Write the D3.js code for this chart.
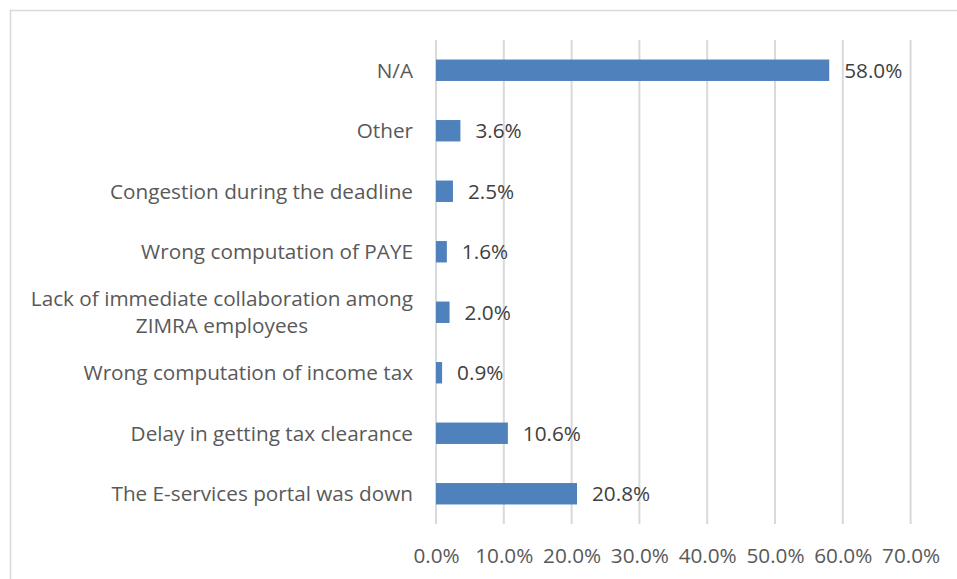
<!DOCTYPE html>
<html>
<head>
<meta charset="utf-8">
<script src="https://cdn.jsdelivr.net/npm/d3@7"></script>
<style>
  html, body { margin: 0; padding: 0; background: #fff; }
  svg { display: block; }
</style>
</head>
<body>
<svg id="chart" width="957" height="579"></svg>
<script>
// Challenges reported, top row first (percent of respondents)
const categories = [
  "N/A",
  "Other",
  "Congestion during the deadline",
  "Wrong computation of PAYE",
  "Lack of immediate collaboration among|ZIMRA employees",
  "Wrong computation of income tax",
  "Delay in getting tax clearance",
  "The E-services portal was down"
];
const values = [58.0, 3.6, 2.5, 1.6, 2.0, 0.9, 10.6, 20.8];
const xTicks = [0, 10, 20, 30, 40, 50, 60, 70];

const W = 957, H = 579;
const font = "'Open Sans', sans-serif";
const textColor = "#595959";
const barColor = "#4f81bd";
const gridColor = "#d9d9d9";

const svg = d3.select("#chart");

// pick a font size so the category text runs about 303px for the congestion label
const probe = svg.append("text")
  .style("font-family", font).style("font-size", "20px")
  .text("Congestion during the deadline");
const fs = Math.max(14, Math.min(24, 20 * 303 / probe.node().getComputedTextLength()));
probe.remove();
const fsPx = fs.toFixed(2) + "px";

// chart frame
svg.append("rect")
  .attr("x", 10.5).attr("y", 10.5)
  .attr("width", W).attr("height", H)
  .attr("fill", "none").attr("stroke", gridColor).attr("stroke-width", 1.5);

const plot = { left: 436, right: 910.6, top: 40, bottom: 524 };

const x = d3.scaleLinear().domain([0, 70]).range([plot.left, plot.right]);
const y = d3.scaleBand()
  .domain(categories)
  .range([plot.top, plot.bottom])
  .paddingInner(0.646).paddingOuter(0.323);

// vertical gridlines
svg.append("g").selectAll("line").data(xTicks).join("line")
  .attr("x1", d => x(d)).attr("x2", d => x(d))
  .attr("y1", plot.top).attr("y2", plot.bottom)
  .attr("stroke", gridColor).attr("stroke-width", 2);

// x axis tick labels
const xAxis = d3.axisBottom(x).tickValues(xTicks).tickSize(0)
  .tickFormat(d => d.toFixed(1) + "%");
const gx = svg.append("g")
  .attr("transform", `translate(0,${plot.bottom})`)
  .call(xAxis);
gx.select(".domain").remove();
gx.selectAll("text")
  .attr("dy", "0.35em").attr("y", 32)
  .attr("fill", textColor)
  .style("font-family", font).style("font-size", fsPx);

// bars
svg.append("g").selectAll("rect").data(values).join("rect")
  .attr("x", x(0))
  .attr("y", (d, i) => y(categories[i]))
  .attr("width", d => x(d) - x(0))
  .attr("height", y.bandwidth())
  .attr("fill", barColor);

// value labels
svg.append("g").selectAll("text").data(values).join("text")
  .attr("x", d => x(d) + 15)
  .attr("y", (d, i) => y(categories[i]) + y.bandwidth() / 2)
  .attr("dy", "0.35em")
  .attr("fill", "#404040")
  .style("font-family", font).style("font-size", fsPx)
  .text(d => d.toFixed(1) + "%");

// category labels (right aligned, centred lines for wrapped labels)
const labels = svg.append("g").selectAll("g").data(categories).join("g")
  .attr("transform", d => `translate(413,${y(d) + y.bandwidth() / 2})`);
labels.each(function (d) {
  const lines = d.split("|");
  const g = d3.select(this);
  const lh = 27;
  if (lines.length === 1) {
    g.append("text")
      .attr("text-anchor", "end").attr("dy", "0.35em")
      .attr("fill", textColor)
      .style("font-family", font).style("font-size", fsPx)
      .text(lines[0]);
  } else {
    const t0 = g.append("text")
      .attr("text-anchor", "end")
      .attr("y", -lh / 2).attr("dy", "0.35em")
      .attr("fill", textColor)
      .style("font-family", font).style("font-size", fsPx)
      .text(lines[0]);
    const w0 = t0.node().getComputedTextLength();
    g.append("text")
      .attr("text-anchor", "middle")
      .attr("x", -w0 / 2)
      .attr("y", lh / 2).attr("dy", "0.35em")
      .attr("fill", textColor)
      .style("font-family", font).style("font-size", fsPx)
      .text(lines[1]);
  }
});
</script>
</body>
</html>
